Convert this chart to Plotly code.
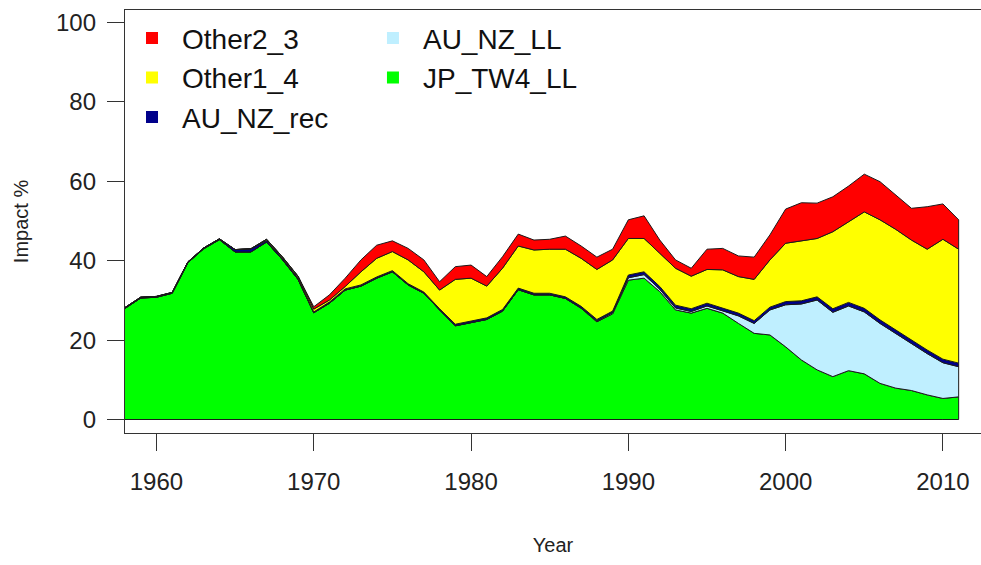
import plotly.graph_objects as go

years = list(range(1958, 2012))

jp_tw4_ll = [28.0, 30.6, 30.8, 31.8, 39.5, 43.0, 45.3, 42.2, 42.2, 44.7,
             40.3, 35.3, 26.9, 29.3, 32.6, 33.6, 35.6, 37.2, 33.9, 31.8,
             27.6, 23.6, 24.4, 25.2, 27.3, 32.7, 31.4, 31.4, 30.5, 28.0,
             24.6, 26.6, 35.1, 35.6, 32.2, 27.6, 26.8, 28.0, 26.8, 24.2,
             21.7, 21.3, 18.3, 15.0, 12.5, 10.8, 12.3, 11.5, 9.1, 7.9,
             7.3, 6.2, 5.3, 5.7]
au_nz_ll = [0.0] * 29 + [0.1, 0.2, 0.3, 0.6, 0.9, 0.6, 0.5, 0.4, 0.6, 0.6, 1.9,
                         2.5, 6.3, 10.6, 14.1, 17.6, 16.2, 16.3, 15.6, 15.1, 13.7,
                         11.8, 10.4, 9.0, 7.6]
au_nz_rec = [0.2] * 7 + [0.6, 0.8, 0.4, 0.4, 0.4, 0.2] + [0.3] * 8 + [0.4] * 11 \
    + [0.7] * 10 + [0.8] * 3 + [0.9] * 9
other1_4 = [0.0] * 9 + [0.3, 0.3, 0.4, 0.7, 0.5, 0.6, 3.3, 4.7, 4.8, 6.0, 5.1,
                        4.7, 11.3, 10.8, 8.0, 10.4, 10.6, 10.9, 11.1, 12.0, 12.1,
                        12.6, 12.9, 9.2, 8.4, 8.4, 9.3, 8.2, 8.5, 9.6, 9.2,
                        10.4, 11.9, 14.7, 15.1, 14.7, 19.4, 20.3, 24.3, 25.2, 25.4,
                        25.2, 25.4, 30.2, 28.7]
other2_3 = [0.0] * 12 + [0.6, 1.3, 2.1, 3.0, 3.3, 2.7, 2.9, 3.0, 2.1, 3.2,
                         3.3, 2.4, 2.9, 3.0, 2.5, 2.5, 3.3, 3.1, 3.1, 2.7,
                         4.7, 5.7, 3.3, 2.1, 2.0, 5.1, 5.4, 5.2, 5.6, 6.3,
                         8.6, 9.6, 8.9, 8.8, 9.0, 9.5, 9.6, 8.6, 8.0, 10.7,
                         8.9, 7.4]

# bottom to top, same as the stacked polygons
layers = [
    ("JP_TW4_LL", jp_tw4_ll, "#00FF00"),
    ("AU_NZ_LL", au_nz_ll, "#BFEFFF"),
    ("AU_NZ_rec", au_nz_rec, "#00008B"),
    ("Other1_4", other1_4, "#FFFF00"),
    ("Other2_3", other2_3, "#FF0000"),
]

fig = go.Figure()
base = [0.0] * len(years)
for name, vals, col in layers:
    top = [b + v for b, v in zip(base, vals)]
    fig.add_trace(go.Scatter(
        x=years + years[::-1], y=top + base[::-1],
        fill="toself", fillcolor=col, mode="lines",
        line=dict(color="#1a1a1a", width=1),
        showlegend=False, hoverinfo="skip"))
    base = top

colours = {n: c for n, _, c in layers}
leg1 = ["Other2_3", "Other1_4", "AU_NZ_rec"]
leg2 = ["AU_NZ_LL", "JP_TW4_LL"]
for names, lg in [(leg1, "legend"), (leg2, "legend2")]:
    for n in names:
        fig.add_trace(go.Scatter(
            x=[None], y=[None], mode="markers", name=n, legend=lg,
            marker=dict(symbol="square", size=12, color=colours[n])))

tick_font = dict(family="Liberation Sans, Arial", size=24, color="#222222")
leg_font = dict(family="Liberation Sans, Arial", size=28, color="#111111")
title_font = dict(family="Liberation Sans, Arial", size=20, color="#222222")

fig.update_layout(
    width=981, height=565,
    margin=dict(l=125, r=0, t=10, b=132),
    paper_bgcolor="white", plot_bgcolor="white",
    legend=dict(x=-0.0035, y=0.992, xanchor="left", yanchor="top", itemwidth=50,
                font=leg_font, bgcolor="rgba(0,0,0,0)", tracegroupgap=0),
    legend2=dict(x=0.278, y=0.992, xanchor="left", yanchor="top", itemwidth=50,
                 font=leg_font, bgcolor="rgba(0,0,0,0)", tracegroupgap=0),
)
fig.update_xaxes(
    range=[1958, 2012.42], tickvals=[1960, 1970, 1980, 1990, 2000, 2010],
    ticks="outside", ticklen=17, tickcolor="#333333", tickwidth=1,
    ticklabelstandoff=10,
    showline=True, mirror=True, linecolor="#333333", linewidth=1.3,
    showgrid=False, zeroline=False, tickfont=tick_font,
    title=dict(text="Year", font=title_font, standoff=44))
fig.update_yaxes(
    range=[-3.4, 103.15], tickvals=[0, 20, 40, 60, 80, 100],
    ticks="outside", ticklen=17, tickcolor="#333333", tickwidth=1,
    ticklabelstandoff=6,
    showline=True, mirror=False, linecolor="#333333", linewidth=1.3,
    showgrid=False, zeroline=False, tickfont=tick_font,
    title=dict(text="Impact %", font=title_font, standoff=22))

fig.write_html("out.html", config={"displayModeBar": False},
               post_script="document.body.style.margin='0';")
